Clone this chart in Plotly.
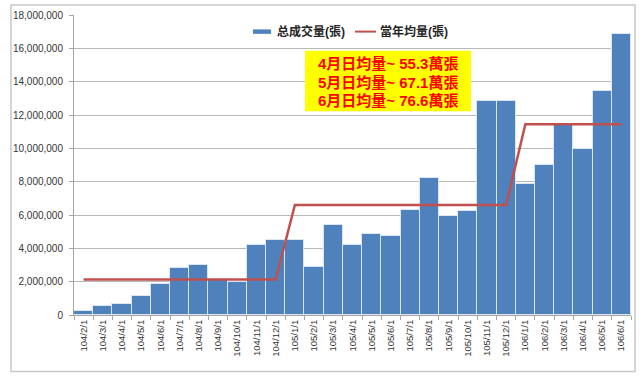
import plotly.graph_objects as go

# ---- data ----
categories = ["104/2/1", "104/3/1", "104/4/1", "104/5/1", "104/6/1", "104/7/1",
              "104/8/1", "104/9/1", "104/10/1", "104/11/1", "104/12/1",
              "105/1/1", "105/2/1", "105/3/1", "105/4/1", "105/5/1", "105/6/1",
              "105/7/1", "105/8/1", "105/9/1", "105/10/1", "105/11/1", "105/12/1",
              "106/1/1", "106/2/1", "106/3/1", "106/4/1", "106/5/1", "106/6/1"]
volumes = [230000, 520000, 680000, 1115000, 1875000, 2850000,
           3010000, 2150000, 1960000, 4200000, 4520000,
           4520000, 2890000, 5430000, 4220000, 4860000, 4740000,
           6310000, 8220000, 5930000, 6270000, 12840000, 12840000,
           7860000, 9000000, 11460000, 9950000, 13460000, 16880000]
year_avg = {"104": 2130000, "105": 6600000, "106": 11440000}
avg_line = [year_avg[c.split("/")[0]] for c in categories]
note_lines = ["4月日均量~ 55.3萬張", "5月日均量~ 67.1萬張", "6月日均量~ 76.6萬張"]
bar_name = "总成交量(張)"
line_name = "當年均量(張)"

# ---- layout geometry ----
W, H = 640, 379
ML, MR, MT, MB = 74, 9, 13, 64
PW, PH = W - ML - MR, H - MT - MB


def px(x):
    return (x - ML) / PW


def py(y):
    return (H - MB - y) / PH


BLUE = "#4F81BD"
RED = "#C0504D"
TXT = "#333333"
FONT = "Liberation Sans, Arial, Noto Sans CJK TC, sans-serif"
CJK = "Liberation Sans, Noto Sans CJK TC, sans-serif"

fig = go.Figure()
fig.add_trace(go.Bar(x=categories, y=volumes, name=bar_name,
                     marker=dict(color=BLUE, line=dict(color="#dce6f2", width=1)),
                     showlegend=False))
fig.add_trace(go.Scatter(x=categories, y=avg_line, name=line_name, mode="lines",
                         line=dict(color=RED, width=2.5), showlegend=False))

shapes = [
    # outer chart border
    dict(type="rect", xref="paper", yref="paper", x0=px(11), x1=px(635), y0=py(372), y1=py(3),
         line=dict(color="#c8c8c8", width=1.5), layer="below"),
    # note box
    dict(type="rect", xref="paper", yref="paper", x0=px(305), x1=px(471), y0=py(110), y1=py(49),
         line=dict(width=0), fillcolor="#FFFF00", layer="above"),
    # legend symbols
    dict(type="rect", xref="paper", yref="paper", x0=px(253), x1=px(271), y0=py(32), y1=py(27.5),
         line=dict(width=0), fillcolor=BLUE),
    dict(type="line", xref="paper", yref="paper", x0=px(355), x1=px(376), y0=py(29.7), y1=py(29.7),
         line=dict(color=RED, width=2)),
]

annotations = [
    dict(xref="paper", yref="paper", x=px(275), y=py(29.7), xanchor="left", yanchor="middle",
         text="<b>" + bar_name + "</b>", showarrow=False, font=dict(family=CJK, size=12, color="#262626")),
    dict(xref="paper", yref="paper", x=px(378), y=py(29.7), xanchor="left", yanchor="middle",
         text="<b>" + line_name + "</b>", showarrow=False, font=dict(family=CJK, size=12, color="#262626")),
]
for i, t in enumerate(note_lines):
    annotations.append(dict(xref="paper", yref="paper", x=px(388), y=py(62 + 18.5 * i),
                            xanchor="center", yanchor="middle", text="<b>" + t + "</b>",
                            showarrow=False, font=dict(family=CJK, size=15, color="#FF0000")))

fig.update_layout(
    width=W, height=H,
    margin=dict(l=ML, r=MR, t=MT, b=MB),
    paper_bgcolor="white", plot_bgcolor="white",
    bargap=0,
    showlegend=False,
    shapes=shapes,
    annotations=annotations,
    font=dict(family=FONT, color=TXT),
)
fig.update_xaxes(type="category", tickangle=-90, tickfont=dict(size=9.5, color=TXT, family=FONT),
                 showline=True, linecolor="#a6a6a6", linewidth=1,
                 ticks="outside", tickson="boundaries", ticklen=4, tickcolor="#a6a6a6",
                 showgrid=False)
fig.update_yaxes(range=[0, 18000000], dtick=2000000, tickformat=",d",
                 tickfont=dict(size=10, color=TXT, family=FONT),
                 showline=True, linecolor="#a6a6a6", linewidth=1,
                 ticks="outside", ticklen=4, tickcolor="#a6a6a6", ticklabelstandoff=4,
                 showgrid=True, gridcolor="#b8b8b8", gridwidth=1, zeroline=False)

fig.write_html("out.html", config={"displayModeBar": False},
               post_script="document.body.style.margin='0';document.body.style.padding='0';")
